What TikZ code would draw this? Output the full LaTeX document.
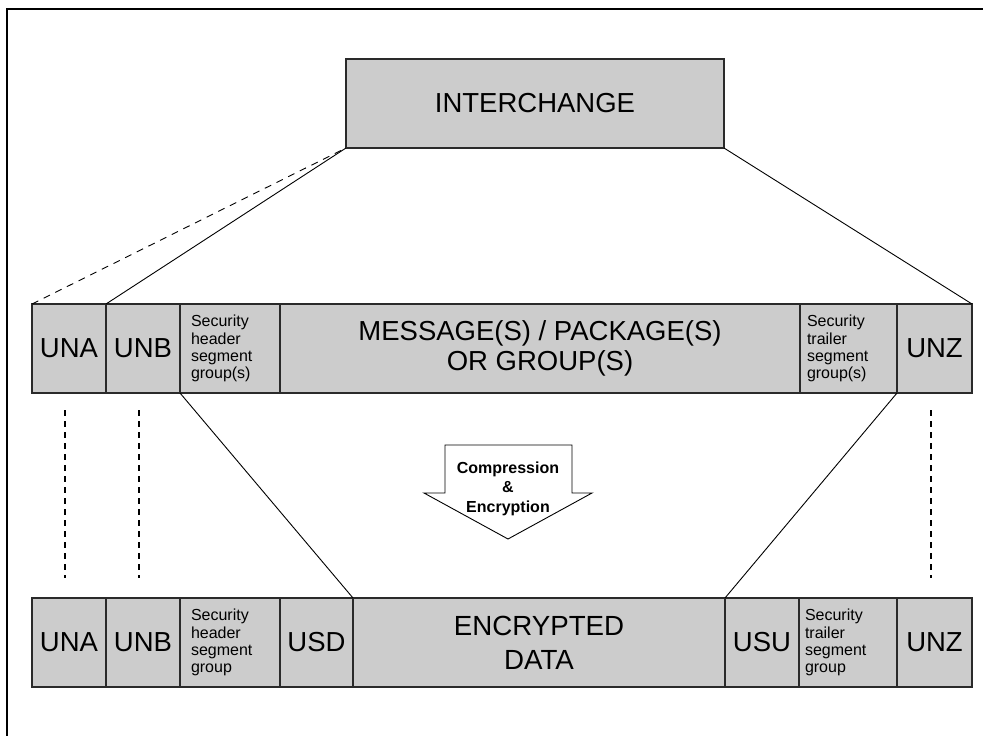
\documentclass[tikz,border=0pt]{standalone}
\usepackage{fontspec}
\setmainfont{Liberation Sans}
\definecolor{cellgray}{HTML}{CCCCCC}
\definecolor{edgegray}{HTML}{2A2A2A}
\tikzset{
  cell/.style={rectangle, draw=edgegray, line width=1.2pt, fill=cellgray,
    inner sep=0pt, outer sep=0pt, anchor=north west, minimum height=89pt, align=center,
    font=\fontsize{27.5}{29.5}\selectfont},
  smallcell/.style={cell, font=\fontsize{16}{17.2}\selectfont, align=left},
  link/.style={line width=0.9pt, draw=black},
  dashlink/.style={line width=0.9pt, draw=black, dash pattern=on 7pt off 6pt},
  vdash/.style={line width=1.6pt, draw=black, dash pattern=on 6pt off 5pt},
}
\begin{document}
\begin{tikzpicture}[x=1pt,y=-1pt]
\useasboundingbox (0,0) rectangle (983,736);
% frame (only top and left edges visible)
\draw[line width=2pt] (7,740) -- (7,9) -- (990,9);

% interchange
\node[cell, minimum width=378pt, minimum height=89pt] (ic) at (346,59) {INTERCHANGE};

% top row
\node[cell, minimum width=74pt] (ta) at (32,304) {UNA};
\node[cell, minimum width=74pt] (tb) at (106,304) {UNB};
\node[smallcell, inner xsep=11pt, text width=78pt] (th) at (180,304) {Security\\header\\segment\\group(s)};
\node[cell, minimum width=520pt] (tm) at (280,304) {MESSAGE(S) / PACKAGE(S)\\OR GROUP(S)};
\node[smallcell, inner xsep=7pt, text width=83pt] (tt) at (800,304) {Security\\trailer\\segment\\group(s)};
\node[cell, minimum width=75pt] (tz) at (897,304) {UNZ};

% bottom row
\node[cell, minimum width=74pt] (ba) at (32,598) {UNA};
\node[cell, minimum width=74pt] (bb) at (106,598) {UNB};
\node[smallcell, inner xsep=11pt, text width=78pt] (bh) at (180,598) {Security\\header\\segment\\group};
\node[cell, minimum width=73pt] (bd) at (280,598) {USD};
\node[cell, minimum width=372pt, font=\fontsize{27.7}{34}\selectfont] (be) at (353,598) {ENCRYPTED\\DATA};
\node[cell, minimum width=74pt] (bu) at (725,598) {USU};
\node[smallcell, inner xsep=6pt, text width=86pt] (bt) at (799,598) {Security\\trailer\\segment\\group};
\node[cell, minimum width=75pt] (bz) at (897,598) {UNZ};

% connectors between interchange and top row
\draw[dashlink] (ta.north west) -- (ic.south west);
\draw[link] (tb.north west) -- (ic.south west);
\draw[link] (tz.north east) -- (ic.south east);

% connectors between top row and encrypted data
\draw[link] (th.south west) -- (be.north west);
\draw[link] (tz.south west) -- (be.north east);

% vertical dashed correspondences
\coordinate (va1) at (65,410);  \coordinate (va2) at (65,578);
\coordinate (vb1) at (139,410); \coordinate (vb2) at (139,578);
\coordinate (vz1) at (931,410); \coordinate (vz2) at (931,578);
\draw[vdash] (va1) -- (va2);
\draw[vdash] (vb1) -- (vb2);
\draw[vdash] (vz1) -- (vz2);

% compression arrow
\draw[line width=0.9pt, fill=white, line join=miter]
  (445,445) -- (572,445) -- (572,493) -- (592,493) -- (508,539) -- (424,493) -- (445,493) -- cycle;
\node[align=center, font=\fontsize{16}{19.5}\selectfont\bfseries, inner sep=0pt] (cmp) at (508,488.5)
  {Compression\\\&\\Encryption};
\end{tikzpicture}
\end{document}
